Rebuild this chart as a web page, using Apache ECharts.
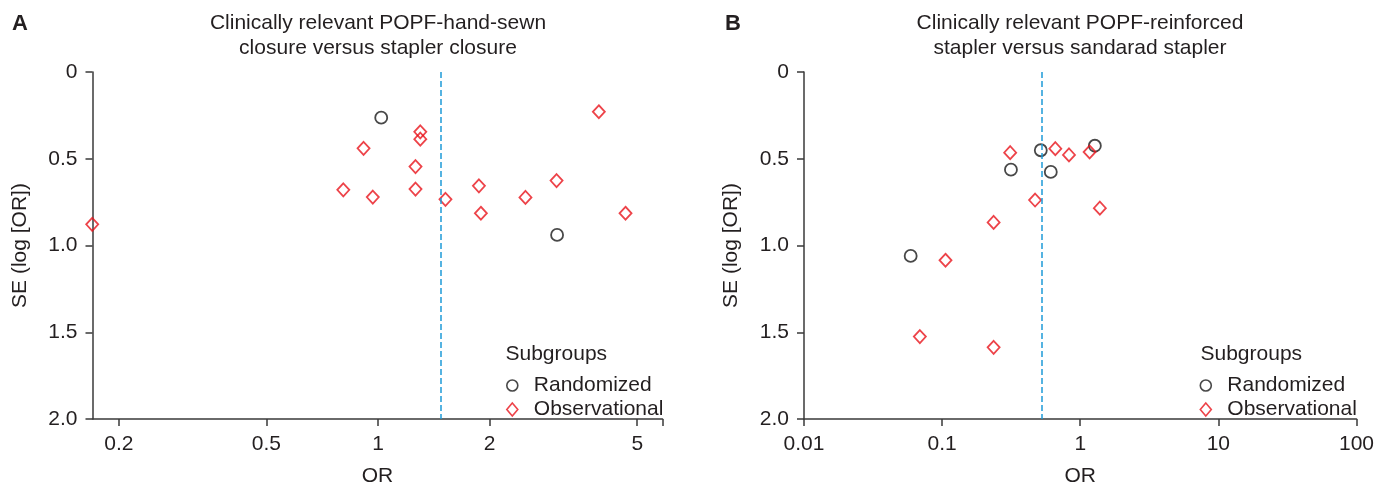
<!DOCTYPE html>
<html><head><meta charset="utf-8">
<script src="https://cdn.jsdelivr.net/npm/echarts@6/dist/echarts.min.js"></script>
<style>html,body{margin:0;padding:0;background:#fff}#c{width:1377px;height:492px}</style>
</head><body><div id="c"></div>
<script>
// ---------- data ----------
const TITLE_A = 'Clinically relevant POPF-hand-sewn\nclosure versus stapler closure';
const TITLE_B = 'Clinically relevant POPF-reinforced\nstapler versus sandarad stapler';
const A_X_TICKS = [0.2, 0.5, 1, 2, 5];
const A_X_RANGE = [0.1698, 5.85];
const B_X_RANGE = [0.01, 100];
const Y_TICKS = [0, 0.5, 1, 1.5, 2];
const POOLED_A = 1.49;
const POOLED_B = 0.53;

const A_RAND_OR = [1.02, 3.04];
const A_RAND_SE = [0.263, 0.939];
const A_OBS_OR = [3.94, 1.30, 1.30, 0.914, 1.262, 0.806, 0.968, 1.262, 1.52, 1.871, 1.894, 2.498, 3.03, 4.65, 0.1695];
const A_OBS_SE = [0.229, 0.345, 0.387, 0.440, 0.545, 0.679, 0.721, 0.675, 0.734, 0.656, 0.814, 0.723, 0.626, 0.814, 0.878];

const B_RAND_OR = [0.518, 1.276, 0.315, 0.612, 0.0592];
const B_RAND_SE = [0.451, 0.425, 0.563, 0.576, 1.060];
const B_OBS_OR = [0.311, 0.660, 0.829, 1.169, 0.471, 1.387, 0.236, 0.1058, 0.069, 0.236];
const B_OBS_SE = [0.465, 0.442, 0.478, 0.461, 0.738, 0.785, 0.867, 1.085, 1.525, 1.587];

// ---------- chart ----------
const FONT = "'Liberation Sans', Arial, Helvetica, sans-serif";
const TXT = '#231f20';
const AXC = '#3a3a3a';
const RED = '#e8141c';
const BLUE = '#1e9bd7';
const FS = 21;

const lg = Math.log10;
const zipA = (xs, ys) => xs.map((x, i) => [lg(x), ys[i]]);
const zipB = (xs, ys) => xs.map((x, i) => [x, ys[i]]);

const axisLineStyle = { onZero: false, lineStyle: { color: AXC, width: 1.5 } };
function yAxis(gi) {
  return {
    gridIndex: gi, type: 'value', position: 'left', inverse: true, min: 0, max: 2, interval: 0.5,
    name: 'SE (log [OR])', nameLocation: 'middle', nameGap: 62,
    nameTextStyle: { fontSize: FS, color: TXT, fontFamily: FONT },
    axisLine: { show: true, ...axisLineStyle },
    axisTick: { show: true, length: 7, lineStyle: { color: AXC, width: 1.5 } },
    axisLabel: { fontSize: FS, color: TXT, fontFamily: FONT, margin: 15,
      customValues: Y_TICKS,
      formatter: v => v === 0 ? '0' : v.toFixed(1) },
    splitLine: { show: false }
  };
}
const xName = {
  position: 'bottom',
  name: 'OR', nameLocation: 'middle', nameGap: 47,
  nameTextStyle: { fontSize: FS, color: TXT, fontFamily: FONT }
};

const circleStyle = { color: 'rgba(0,0,0,0)', borderColor: '#1a1a1a', borderWidth: 1.8 };
const diamondStyle = { color: 'rgba(0,0,0,0)', borderColor: RED, borderWidth: 1.8 };
const markLine = v => ({
  silent: true, symbol: 'none', label: { show: false },
  lineStyle: { color: BLUE, type: [6, 3], width: 1.5 },
  data: [{ xAxis: v }]
});

function legend(left) {
  return {
    left: left, top: 375, orient: 'vertical', padding: 0, itemGap: 3,
    itemWidth: 11, itemHeight: 13,
    data: ['Randomized', 'Observational'],
    itemStyle: { borderWidth: 1.6 },
    textStyle: { fontSize: FS, color: TXT, fontFamily: FONT, lineHeight: 20, padding: [0, 0, 0, 11] },
    selectedMode: false
  };
}
function head(text, x, y, size, weight, align) {
  return { text, left: x, top: y, padding: 0, textAlign: align,
    textStyle: { fontSize: size, fontWeight: weight, color: TXT, fontFamily: FONT, lineHeight: size === 22 ? 22 : 24.5 } };
}

const option = {
  animation: false,
  textStyle: { fontFamily: FONT },
  title: [
    head('A', 12, 13, 22, 'bold', 'left'),
    head('B', 725, 13, 22, 'bold', 'left'),
    head(TITLE_A, 378, 11, FS, 'normal', 'center'),
    head(TITLE_B, 1080, 11, FS, 'normal', 'center'),
    { text: 'Subgroups', left: 505.5, top: 344, padding: 0,
      textStyle: { fontSize: FS, fontWeight: 'normal', color: TXT, fontFamily: FONT, lineHeight: 20 } },
    { text: 'Subgroups', left: 1200.5, top: 344, padding: 0,
      textStyle: { fontSize: FS, fontWeight: 'normal', color: TXT, fontFamily: FONT, lineHeight: 20 } }
  ],
  legend: [legend(506), legend(1199.5)],
  grid: [
    { left: 92.5, top: 72, width: 570, height: 351.5 },
    { left: 804, top: 72, width: 555.5, height: 351.5 }
  ],
  xAxis: [
    { gridIndex: 0, type: 'value', min: lg(A_X_RANGE[0]), max: lg(A_X_RANGE[1]), ...xName,
      axisLine: { show: true, ...axisLineStyle },
      axisTick: { show: true, length: 7, lineStyle: { color: AXC, width: 1.5 },
        customValues: A_X_TICKS.map(lg).concat([lg(A_X_RANGE[1])]) },
      axisLabel: { fontSize: FS, color: TXT, fontFamily: FONT, margin: 15,
        customValues: A_X_TICKS.map(lg),
        formatter: v => { const t = A_X_TICKS.find(t => Math.abs(lg(t) - v) < 1e-6); return t === undefined ? '' : String(t); } },
      splitLine: { show: false } },
    { gridIndex: 1, type: 'log', logBase: 10, min: B_X_RANGE[0], max: B_X_RANGE[1], ...xName,
      axisLine: { show: true, ...axisLineStyle },
      axisTick: { show: true, length: 7, lineStyle: { color: AXC, width: 1.5 } },
      minorTick: { show: false },
      axisLabel: { fontSize: FS, color: TXT, fontFamily: FONT, margin: 15,
        formatter: v => String(+v.toPrecision(6)) },
      splitLine: { show: false } }
  ],
  yAxis: [yAxis(0), yAxis(1)],
  series: [
    { name: 'Randomized', type: 'scatter', xAxisIndex: 0, yAxisIndex: 0, clip: false,
      symbol: 'circle', symbolSize: 12, itemStyle: circleStyle, data: zipA(A_RAND_OR, A_RAND_SE), z: 3 },
    { name: 'Observational', type: 'scatter', xAxisIndex: 0, yAxisIndex: 0, clip: false,
      symbol: 'diamond', symbolSize: [12, 13], itemStyle: diamondStyle, data: zipA(A_OBS_OR, A_OBS_SE),
      markLine: markLine(lg(POOLED_A)), z: 3 },
    { name: 'Randomized', type: 'scatter', xAxisIndex: 1, yAxisIndex: 1, clip: false,
      symbol: 'circle', symbolSize: 12, itemStyle: circleStyle, data: zipB(B_RAND_OR, B_RAND_SE), z: 3 },
    { name: 'Observational', type: 'scatter', xAxisIndex: 1, yAxisIndex: 1, clip: false,
      symbol: 'diamond', symbolSize: [12, 13], itemStyle: diamondStyle, data: zipB(B_OBS_OR, B_OBS_SE),
      markLine: markLine(POOLED_B), z: 3 }
  ]
};
const chart = echarts.init(document.getElementById('c'), null, { renderer: 'canvas' });
chart.setOption(option);
</script>
</body></html>
